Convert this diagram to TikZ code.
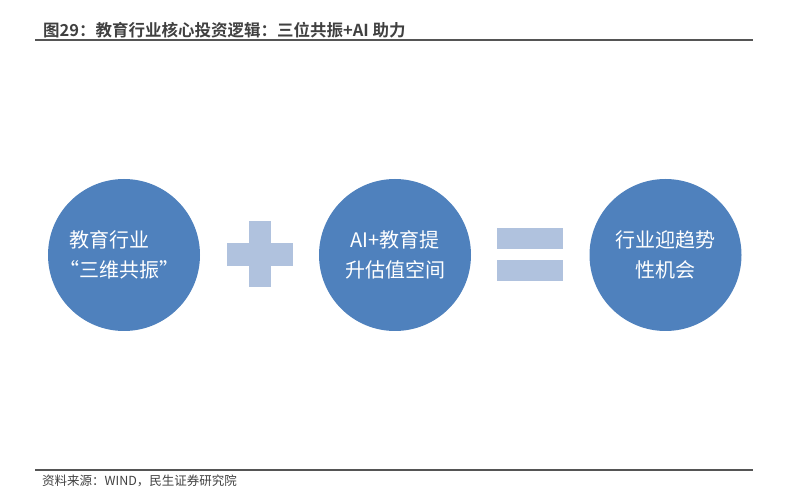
\documentclass[tikz,border=0pt]{standalone}
\usepackage{fontspec}
\newfontfamily\cjk{Noto Sans CJK SC}
\newfontfamily\cjkbold{Noto Sans CJK SC Bold}
\usetikzlibrary{positioning}
\definecolor{circblue}{HTML}{4F81BD}
\definecolor{signblue}{HTML}{B0C2DE}
\definecolor{rulegray}{HTML}{555555}
\definecolor{textgray}{HTML}{404040}

\begin{document}
\begin{tikzpicture}[x=1pt, y=1pt,
        bigcircle/.style={circle, fill=circblue, text=white, minimum size=152pt, inner sep=0pt, align=center, font=\cjk\fontsize{20}{30}\selectfont},
        signbar/.style={fill=signblue},
        rule/.style={draw=rulegray, line width=2pt}]
        \useasboundingbox (0,0) rectangle (795,501);

        % heading and source
        \node (title) [anchor=west, inner sep=0pt, text=textgray, font=\cjkbold\fontsize{16.5}{20}\selectfont] at (43,471) {图29：教育行业核心投资逻辑：三位共振+AI 助力};
        \coordinate (titleL) at (35,461);
        \coordinate (titleR) at (753,461);
        \node (source) [anchor=west, inner sep=0pt, text=textgray, font=\cjk\fontsize{12.5}{15}\selectfont] at (42,20) {资料来源：WIND，民生证券研究院};
        \coordinate (sourceL) at (35,31);
        \coordinate (sourceR) at (753,31);
        \draw[rule] (titleL) -- (titleR);
        \draw[rule, line width=1.5pt] (sourceL) -- (sourceR);

        % three circles
        \node (industry) [bigcircle, align=left] at (124,246) {教育行业\\\kern-0.5em“三维共振”};
        \node (aiedu) [bigcircle] at (395,246) {AI+教育提\\升估值空间};
        \node (chance) [bigcircle] at (665.5,246) {行业迎趋势\\性机会};

        % plus sign
        \coordinate (plus) at (260,246.5);
        \fill[signbar] ([shift={(-33,-11.5)}]plus) rectangle ([shift={(33,11.5)}]plus);
        \fill[signbar] ([shift={(-11,-33)}]plus) rectangle ([shift={(11,33)}]plus);

        % equals sign
        \coordinate (equals) at (530,246.5);
        \fill[signbar] ([shift={(-33,5.5)}]equals) rectangle ([shift={(33,26.5)}]equals);
        \fill[signbar] ([shift={(-33,-26.5)}]equals) rectangle ([shift={(33,-5.5)}]equals);
    \end{tikzpicture}
\end{document}
